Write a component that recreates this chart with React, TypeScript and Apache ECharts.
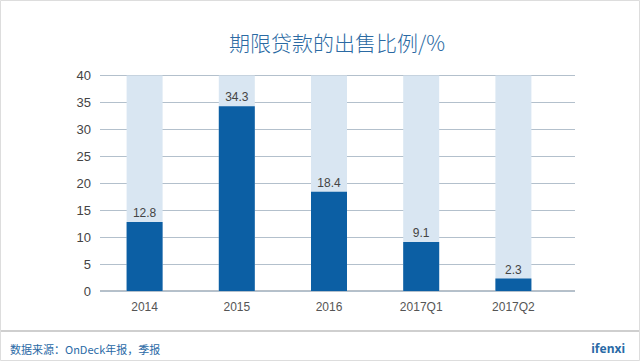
import React, { useEffect, useRef } from "react";
import * as echarts from "echarts";

const categories = ["2014", "2015", "2016", "2017Q1", "2017Q2"];
const shareSold = [12.8, 34.3, 18.4, 9.1, 2.3];
const backgroundMax = [40, 40, 40, 40, 40];
const yTicks = [0, 5, 10, 15, 20, 25, 30, 35, 40];

const title = "期限贷款的出售比例/%";
const source = "数据来源：OnDeck年报，季报";
const brand = "ifenxi";

export default function App() {
  const ref = useRef<HTMLDivElement>(null);
  useEffect(() => {
    if (!ref.current) return;
    const chart = echarts.init(ref.current, null, { renderer: "svg" });
    chart.setOption({
      animation: false,
      backgroundColor: "#ffffff",
      title: {
        text: title,
        left: 332,
        textAlign: "center",
        top: 26,
        textStyle: {
          color: "#2b6aa3",
          fontSize: 21,
          fontWeight: 300,
          fontFamily: "Noto Sans CJK SC",
        },
      },
      grid: [
        { left: 100, right: 65, top: 75.5, bottom: 70 },
        { left: 98.5, right: 80.5, top: 75.5, bottom: 70 },
      ],
      xAxis: [
        { type: "category", gridIndex: 0, data: categories, show: false },
        {
          type: "category",
          gridIndex: 1,
          data: categories,
          axisLine: { show: false },
          axisTick: { show: false },
          axisLabel: {
            color: "#555",
            fontSize: 12,
            margin: 10,
            fontFamily: "Liberation Sans",
          },
        },
      ],
      yAxis: [
        {
          type: "value",
          gridIndex: 0,
          min: yTicks[0],
          max: yTicks[yTicks.length - 1],
          interval: 5,
          axisLine: { show: false },
          axisTick: { show: false },
          axisLabel: { color: "#444", fontSize: 13, margin: 9, fontFamily: "Liberation Sans" },
          splitLine: { lineStyle: { color: "#b3c0cc", width: 1 } },
        },
        {
          type: "value",
          gridIndex: 1,
          min: 0,
          max: 40,
          interval: 5,
          show: false,
        },
      ],
      series: [
        {
          type: "bar",
          xAxisIndex: 1,
          yAxisIndex: 1,
          data: backgroundMax,
          barWidth: 36,
          barGap: "-100%",
          itemStyle: { color: "#d9e6f2" },
          silent: true,
          z: 1,
        },
        {
          type: "bar",
          xAxisIndex: 1,
          yAxisIndex: 1,
          data: shareSold,
          barWidth: 36,
          itemStyle: { color: "#0c5fa4" },
          label: {
            show: true,
            position: "top",
            distance: 3,
            color: "#444",
            fontSize: 12,
            fontFamily: "Liberation Sans",
          },
          z: 2,
        },
      ],
      graphic: [
        {
          type: "line",
          shape: { x1: 100, y1: 291, x2: 575, y2: 291 },
          style: { stroke: "#b8c0c8", lineWidth: 2 },
          z: 0,
        },
        {
          type: "rect",
          shape: { x: 0, y: 330, width: 640, height: 2 },
          style: { fill: "#cfcfcf" },
        },
        {
          type: "rect",
          shape: { x: 0.5, y: 0.5, width: 639, height: 360 },
          style: { fill: "none", stroke: "#dddddd", lineWidth: 1 },
        },
        {
          type: "text",
          left: 10,
          top: 343,
          style: {
            text: source,
            fill: "#2a6aa6",
            fontSize: 11,
            fontFamily: "Noto Sans CJK SC",
          },
        },
        {
          type: "text",
          right: 15,
          top: 342,
          style: {
            text: brand,
            fill: "#2a6aa6",
            fontSize: 12,
            fontWeight: "bold",
            fontFamily: "Noto Sans",
          },
        },
      ],
    });
    return () => chart.dispose();
  }, []);
  return <div ref={ref} style={{ width: 640, height: 361, position: "fixed", left: 0, top: 0 }} />;
}
